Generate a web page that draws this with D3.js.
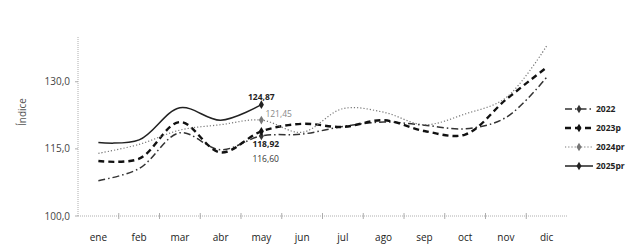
<!DOCTYPE html>
<html><head><meta charset="utf-8">
<script src="https://cdn.jsdelivr.net/npm/d3@7"></script>
<style>body{margin:0;background:#fff}svg{display:block}text{font-family:"Open Sans","Noto Sans",sans-serif}</style>
</head><body>
<script>
const months = ["ene","feb","mar","abr","may","jun","jul","ago","sep","oct","nov","dic"];
const s2022  = [107.9,110.6,118.6,114.8,117.9,118.3,120.0,121.0,120.3,119.5,122.0,131.0];
const s2023p = [112.3,112.8,121.0,114.2,118.92,120.6,119.9,121.4,119.0,118.2,126.0,133.2];
const s2024pr= [114.0,116.0,119.2,120.4,121.45,118.7,124.0,123.2,120.4,122.8,126.4,138.0];
const s2025pr= [116.4,117.0,124.2,121.4,124.87];
const seriesNames = ["2022","2023p","2024pr","2025pr"];
const yTicks = [100,115,130];
const annotations = ["124,87","121,45","118,92","116,60"];

const W=631,H=244;
const svg=d3.select("body").append("svg").attr("width",W).attr("height",H);
const x=d3.scalePoint().domain(months).range([78,567]).padding(0.5);
const xb=d3.scaleBand().domain(months).range([78,567]);
const y=d3.scaleLinear().domain([100,140]).range([216,37]);

// axes
const ax=svg.append("g").attr("stroke","#999").attr("stroke-width",0.8);
ax.append("line").attr("x1",78).attr("x2",78).attr("y1",37).attr("y2",216).attr("stroke-dasharray","1,1");
ax.append("line").attr("x1",78).attr("x2",567).attr("y1",216).attr("y2",216).attr("stroke-dasharray","1,1");
yTicks.forEach(t=>{
  ax.append("line").attr("x1",75).attr("x2",78).attr("y1",y(t)).attr("y2",y(t));
  svg.append("text").attr("x",70).attr("y",y(t)).attr("dy","0.35em").attr("text-anchor","end")
    .attr("font-size",10).attr("fill","#444").text(d3.format(".1f")(t).replace(".",","));
});
months.forEach((m,i)=>{
  if(i>0) ax.append("line").attr("x1",xb(m)).attr("x2",xb(m)).attr("y1",213).attr("y2",219);
  svg.append("text").attr("x",x(m)).attr("y",237).attr("dy","0.35em").attr("text-anchor","middle")
    .attr("font-size",10).attr("fill","#222").text(m);
});
svg.append("text").attr("transform","translate(22,112) rotate(-90)").attr("text-anchor","middle")
  .attr("dy","0.35em").attr("font-size",10).attr("fill","#555").text("Índice");

const styles={
  "2022":{stroke:"#333",w:1.5,dash:"7,3,1.5,3"},
  "2023p":{stroke:"#111",w:2.4,dash:"6,4"},
  "2024pr":{stroke:"#777",w:1.2,dash:"1.2,2"},
  "2025pr":{stroke:"#222",w:1.5,dash:null}
};
const data=[s2022,s2023p,s2024pr,s2025pr];
const line=d3.line().x((d,i)=>x(months[i])).y(d=>y(d)).curve(d3.curveCatmullRom.alpha(0.5));
const diamond=d3.symbol().type(d3.symbolDiamond).size(22);
data.forEach((vals,k)=>{
  const st=styles[seriesNames[k]];
  svg.append("path").datum(vals).attr("d",line).attr("fill","none").attr("stroke",st.stroke)
    .attr("stroke-width",st.w).attr("stroke-dasharray",st.dash);
  svg.append("path").attr("d",diamond).attr("transform",`translate(${x("may")},${y(vals[4])})`).attr("fill",st.stroke);
});

// annotations
svg.append("text").attr("x",x("may")).attr("y",97).attr("dy","0.35em").attr("text-anchor","middle")
  .attr("font-size",8.5).attr("font-weight","bold").attr("fill","#222").text(annotations[0]);
svg.append("text").attr("x",x("may")+4).attr("y",114).attr("dy","0.35em")
  .attr("font-size",8.5).attr("fill","#888").text(annotations[1]);
svg.append("text").attr("x",x("may")-9).attr("y",144).attr("dy","0.35em")
  .attr("font-size",8.5).attr("font-weight","bold").attr("fill","#222").text(annotations[2]);
svg.append("text").attr("x",x("may")-9).attr("y",159).attr("dy","0.35em")
  .attr("font-size",8.5).attr("fill","#333").text(annotations[3]);

// legend
const lg=svg.append("g");
seriesNames.forEach((n,i)=>{
  const st=styles[n], ly=109+i*19;
  lg.append("line").attr("x1",565).attr("x2",593).attr("y1",ly).attr("y2",ly).attr("stroke",st.stroke)
    .attr("stroke-width",st.w).attr("stroke-dasharray",st.dash);
  lg.append("path").attr("d",diamond).attr("transform",`translate(579,${ly})`).attr("fill",st.stroke);
  lg.append("text").attr("x",596).attr("y",ly).attr("dy","0.35em").attr("font-size",8.5)
    .attr("font-weight","bold").attr("fill","#222").text(n);
});
</script>
</body></html>
